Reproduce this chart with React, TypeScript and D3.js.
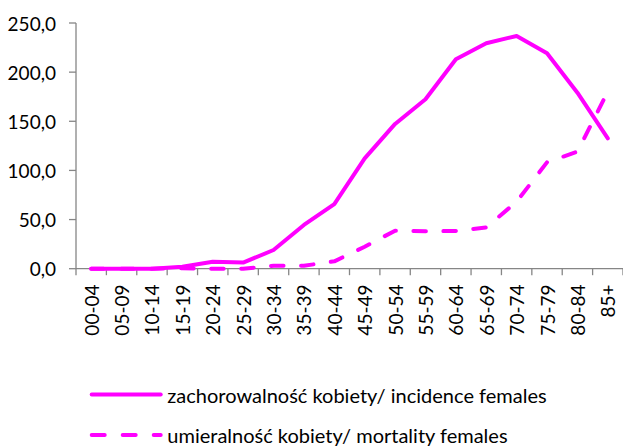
import React from "react";
import * as d3 from "d3";

const categories = ["00-04","05-09","10-14","15-19","20-24","25-29","30-34","35-39","40-44","45-49","50-54","55-59","60-64","65-69","70-74","75-79","80-84","85+"];
const incidence = [0.0, 0.0, 0.0, 2.0, 7.1, 6.2, 19.0, 44.5, 65.8, 112.3, 147.3, 172.4, 213.1, 229.4, 236.8, 219.2, 179.1, 132.7];
const mortality = [0.0, 0.0, 0.0, 0.5, 0.0, 0.0, 3.0, 3.0, 7.5, 22.4, 38.7, 38.0, 38.4, 42.0, 68.2, 108.3, 119.1, 180.2];
const yTicks = [0, 50, 100, 150, 200, 250];
const seriesNames = ["zachorowalność kobiety/ incidence females", "umieralność kobiety/ mortality females"];

const W = 623, H = 446;
const left = 76, right = 623, top = 23, bottom = 268.7;
const color = "#FF00FF";
const axisColor = "#868686";
const font = "Lato, 'Open Sans', sans-serif";
const fmt = (v: number) => v.toFixed(1).replace(".", ",");

export default function App() {
  const x = d3.scaleBand<string>().domain(categories).range([left, right]).paddingInner(0).paddingOuter(0);
  const y = d3.scaleLinear().domain([0, 250]).range([bottom, top]);
  const cx = (c: string) => (x(c) as number) + x.bandwidth() / 2;
  const line = d3.line<number>().x((_, i) => cx(categories[i])).y((d) => y(d));
  const boundaries = categories.map((c) => x(c) as number).concat([right]);

  return (
    <div style={{ position: "fixed", left: 0, top: 0 }}>
      <svg width={W} height={H} style={{ display: "block", background: "#fff" }}>
        {/* y axis */}
        <line x1={left} x2={left} y1={y(250)} y2={y(0)} stroke={axisColor} strokeWidth={1.3} />
        {yTicks.map((t) => (
          <g key={t}>
            <line x1={left - 7} x2={left} y1={y(t)} y2={y(t)} stroke={axisColor} strokeWidth={1.3} />
            <text x={56} y={y(t)} textAnchor="end" dominantBaseline="central" fontFamily={font} fontSize={19} fill="#000">
              {fmt(t)}
            </text>
          </g>
        ))}
        {/* x axis */}
        <line x1={left} x2={right} y1={y(0)} y2={y(0)} stroke={axisColor} strokeWidth={1.3} />
        {boundaries.map((b, i) => (
          <line key={i} x1={b} x2={b} y1={y(0)} y2={y(0) + 6.5} stroke={axisColor} strokeWidth={1.3} />
        ))}
        {categories.map((c) => (
          <text key={c} transform={`translate(${cx(c)},284.5) rotate(-90)`} textAnchor="end" dominantBaseline="central" fontFamily={font} fontSize={19} fill="#000">
            {c}
          </text>
        ))}
        {/* lines */}
        <path d={line(incidence) || ""} fill="none" stroke={color} strokeWidth={4} strokeLinejoin="round" strokeLinecap="round" />
        <path d={line(mortality) || ""} fill="none" stroke={color} strokeWidth={4} strokeLinejoin="round" strokeLinecap="round" strokeDasharray="12.5 17.5" />
        {/* legend */}
        <line x1={91.7} x2={160.7} y1={394.5} y2={394.5} stroke={color} strokeWidth={4} strokeLinecap="round" />
        <text x={167.3} y={394.5} dominantBaseline="central" fontFamily={font} fontSize={20} fill="#000">{seriesNames[0]}</text>
        <line x1={91.7} x2={160.7} y1={435} y2={435} stroke={color} strokeWidth={4} strokeLinecap="round" strokeDasharray="13 18" />
        <text x={167.3} y={435} dominantBaseline="central" fontFamily={font} fontSize={20} fill="#000">{seriesNames[1]}</text>
      </svg>
    </div>
  );
}
